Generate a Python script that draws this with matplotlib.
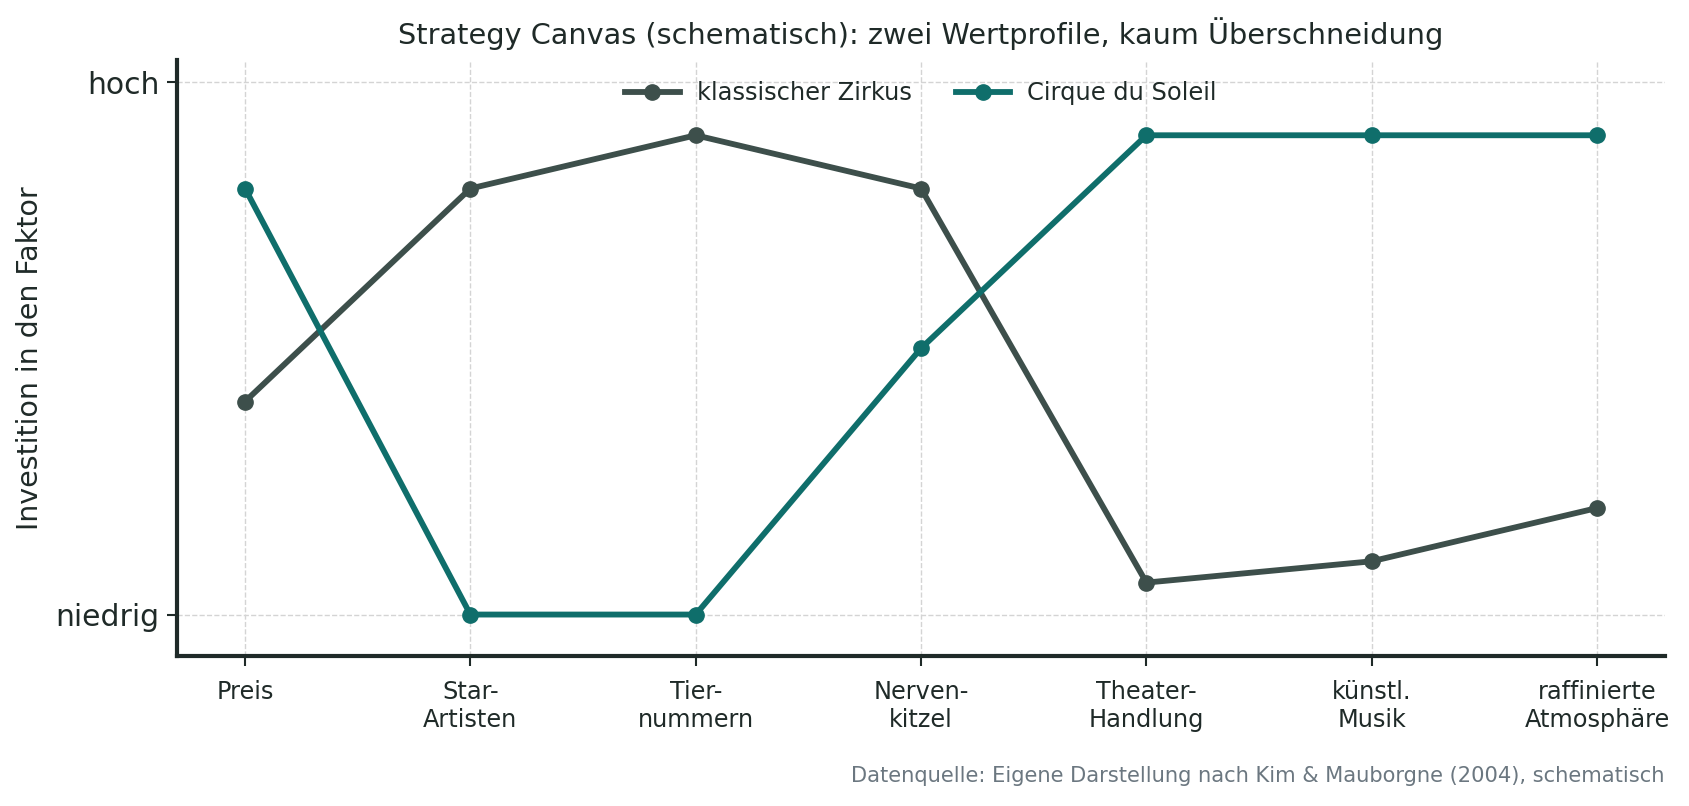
import matplotlib
matplotlib.use("Agg")
import matplotlib.pyplot as plt

faktoren = ["Preis", "Star-\nArtisten", "Tier-\nnummern", "Nerven-\nkitzel",
            "Theater-\nHandlung", "künstl.\nMusik", "raffinierte\nAtmosphäre"]
zirkus = [0.4, 0.8, 0.9, 0.8, 0.06, 0.1, 0.2]
cirque = [0.8, 0.0, 0.0, 0.5, 0.9, 0.9, 0.9]
y_ticks = [0, 1]
y_labels = ["niedrig", "hoch"]

dark = "#1f2a28"
c_zirkus = "#3d4f4b"
c_cirque = "#0f6e6b"

fig = plt.figure(figsize=(16.9, 8.06), dpi=100)
ax = fig.add_axes([0.105, 0.186, 0.880, 0.740])

x = list(range(len(faktoren)))
ax.plot(x, zirkus, color=c_zirkus, lw=4.2, marker="o", ms=11, label="klassischer Zirkus", zorder=3)
ax.plot(x, cirque, color=c_cirque, lw=4.2, marker="o", ms=11, label="Cirque du Soleil", zorder=3)

ax.set_xlim(-0.3, 6.3)
ax.set_ylim(-0.078, 1.042)
ax.set_xticks(x)
ax.set_xticklabels(faktoren, fontsize=17.3, color=dark)
ax.set_yticks(y_ticks)
ax.set_yticklabels(y_labels, fontsize=21.5, color=dark)
ax.tick_params(axis="x", length=7, width=1.5, pad=10.5, color=dark)
ax.tick_params(axis="y", length=7, width=1.5, pad=6, color=dark)

ax.grid(True, ls="--", color="#d4d4d4", lw=1)
ax.set_axisbelow(True)
for s in ["top", "right"]:
    ax.spines[s].set_visible(False)
for s in ["left", "bottom"]:
    ax.spines[s].set_linewidth(3)
    ax.spines[s].set_color(dark)

ax.set_ylabel("Investition in den Faktor", fontsize=20.5, color=dark, labelpad=8)
ax.set_title("Strategy Canvas (schematisch): zwei Wertprofile, kaum Überschneidung",
             fontsize=20.7, color=dark, pad=11)

leg = ax.legend(loc="upper center", ncol=2, frameon=False, fontsize=17.4,
                handlelength=2.25, handletextpad=0.7, columnspacing=1.85,
                bbox_to_anchor=(0.5, 1.0))
for t in leg.get_texts():
    t.set_color(dark)

fig.text(0.985, 0.025, "Datenquelle: Eigene Darstellung nach Kim & Mauborgne (2004), schematisch",
         ha="right", va="bottom", fontsize=15.1, color="#6b7780")

fig.savefig("out.png", dpi=100)
